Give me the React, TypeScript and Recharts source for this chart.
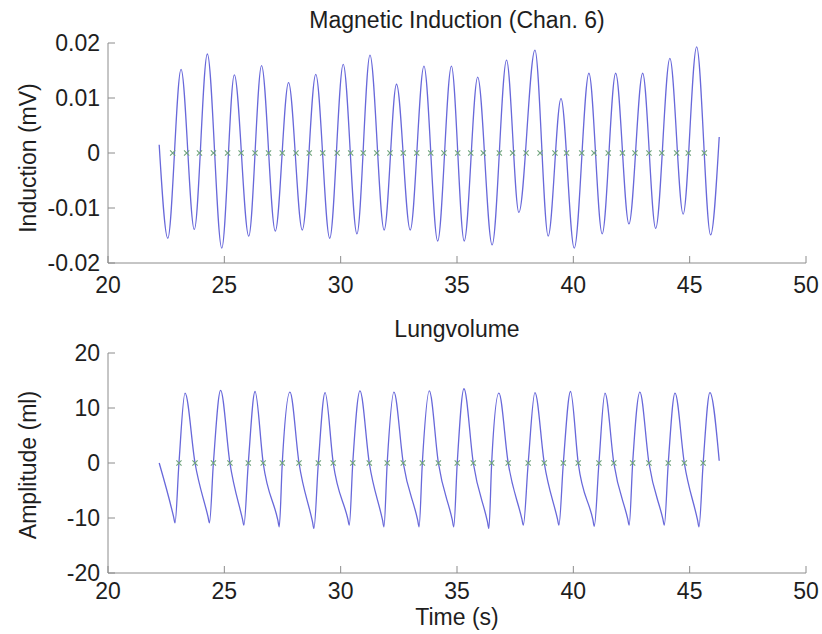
import React from "react";
import { ComposedChart, Line, Scatter, XAxis, YAxis } from "recharts";

// time axis shared by both panels
const TIME_TICKS = [20, 25, 30, 35, 40, 45, 50];
const INDUCTION_TICKS = [-0.02, -0.01, 0, 0.01, 0.02];
const LUNG_TICKS = [-20, -10, 0, 10, 20];

// magnetic induction, channel 6: turning points of the trace (s, mV)
const inductionTime = [
  22.2, 22.57, 23.14, 23.71, 24.27, 24.89, 25.43, 26.05, 26.6, 27.19, 27.76,
  28.35, 28.93, 29.53, 30.11, 30.7, 31.26, 31.87, 32.4, 32.99, 33.58, 34.17,
  34.76, 35.31, 35.89, 36.51, 37.13, 37.66, 38.35, 38.92, 39.47, 40.04, 40.67,
  41.24, 41.82, 42.39, 42.98, 43.54, 44.15, 44.72, 45.3, 45.9, 46.27,
];
const inductionValue = [
  0.0015, -0.0155, 0.0152, -0.0139, 0.018, -0.0173, 0.0142, -0.0151, 0.0159,
  -0.0142, 0.0128, -0.014, 0.0143, -0.0155, 0.0161, -0.0147, 0.0178, -0.014,
  0.0125, -0.014, 0.0158, -0.016, 0.0158, -0.016, 0.0138, -0.0167, 0.0169,
  -0.0108, 0.0187, -0.0151, 0.0099, -0.0173, 0.0145, -0.0147, 0.0145, -0.0129,
  0.0145, -0.0137, 0.0172, -0.0111, 0.0193, -0.0149, 0.0029,
];
// detected zero crossings of the induction signal
const inductionCrossings = [
  22.78, 23.38, 23.93, 24.53, 25.14, 25.72, 26.32, 26.9, 27.49, 28.08, 28.65,
  29.23, 29.85, 30.43, 30.97, 31.55, 32.12, 32.69, 33.27, 33.87, 34.44, 35.03,
  35.59, 36.13, 36.82, 37.39, 37.97, 38.57, 39.21, 39.71, 40.36, 40.89, 41.5,
  42.11, 42.65, 43.25, 43.8, 44.44, 44.94, 45.63,
];

// lung volume (s, ml)
const lungTime = [
  22.2, 22.82, 22.88, 23.05, 23.31, 23.74,
  24.3, 24.36, 24.53, 24.84, 25.24,
  25.78, 25.84, 26.03, 26.32, 26.67,
  27.3, 27.36, 27.49, 27.82, 28.21,
  28.79, 28.85, 29.04, 29.33, 29.68,
  30.31, 30.37, 30.52, 30.83, 31.23,
  31.8, 31.86, 32.0, 32.29, 32.69,
  33.31, 33.37, 33.51, 33.81, 34.2,
  34.8, 34.86, 35.01, 35.3, 35.7,
  36.31, 36.37, 36.49, 36.8, 37.2,
  37.79, 37.85, 38.06, 38.35, 38.75,
  39.32, 39.38, 39.57, 39.88, 40.21,
  40.84, 40.9, 41.1, 41.36, 41.74,
  42.34, 42.4, 42.55, 42.86, 43.25,
  43.85, 43.91, 44.08, 44.37, 44.77,
  45.34, 45.4, 45.58, 45.87, 46.27,
];
const lungValue = [
  0, -9.8, -10.9, 0, 12.7, 0,
  -9.8, -10.9, 0, 13.2, 0,
  -10.2, -11.3, 0, 13.0, 0,
  -10.4, -11.6, 0, 12.9, 0,
  -10.7, -11.9, 0, 12.8, 0,
  -10.2, -11.3, 0, 13.1, 0,
  -10.4, -11.6, 0, 12.9, 0,
  -10.4, -11.6, 0, 13.1, 0,
  -10.4, -11.6, 0, 13.5, 0,
  -10.7, -11.9, 0, 12.7, 0,
  -10.2, -11.3, 0, 12.8, 0,
  -10.2, -11.3, 0, 13.0, 0,
  -10.3, -11.5, 0, 12.7, 0,
  -10.2, -11.3, 0, 12.9, 0,
  -10.2, -11.3, 0, 12.7, 0,
  -10.4, -11.6, 0, 12.8, 0.4,
];
const lungCrossings = [
  23.05, 23.74, 24.53, 25.24, 26.03, 26.67, 27.49, 28.21, 29.04, 29.68, 30.52,
  31.23, 32.0, 32.69, 33.51, 34.2, 35.01, 35.7, 36.49, 37.2, 38.06, 38.75,
  39.57, 40.21, 41.1, 41.74, 42.55, 43.25, 44.08, 44.77, 45.58,
];

const FONT = '"Liberation Sans", Arial, Helvetica, sans-serif';
const INK = "#1e1e1e";
const FRAME = "#8c8c8c";
const TRACE = "#6868da";
const MARK = "#6fa47c";

const inductionRows = inductionTime.map((t, i) => ({ t, v: inductionValue[i] }));
const inductionMarks = inductionCrossings.map((t) => ({ t, v: 0 }));
const lungRows = lungTime.map((t, i) => ({ t, v: lungValue[i] }));
const lungMarks = lungCrossings.map((t) => ({ t, v: 0 }));

const tickStyle = { fontSize: 23, fill: INK, fontFamily: FONT };
const blank = () => "";

const CrossMark = (props: any) => {
  const { cx, cy } = props;
  const r = 2.6;
  return (
    <path
      d={`M${cx - r},${cy - r}L${cx + r},${cy + r}M${cx - r},${cy + r}L${cx + r},${cy - r}`}
      stroke={MARK}
      strokeWidth={1.1}
      fill="none"
    />
  );
};

// box frame with inward ticks on all four sides
function frame(yDomain: number[], yTicks: number[], xGap: number) {
  return [
    <XAxis
      key="xb"
      dataKey="t"
      type="number"
      domain={[20, 50]}
      ticks={TIME_TICKS}
      interval={0}
      tickSize={-7}
      tickMargin={xGap}
      height={30}
      stroke={FRAME}
      tick={tickStyle}
      allowDataOverflow
    />,
    <XAxis
      key="xt"
      xAxisId="top"
      orientation="top"
      dataKey="t"
      type="number"
      domain={[20, 50]}
      ticks={TIME_TICKS}
      interval={0}
      tickSize={-7}
      height={0}
      stroke={FRAME}
      tickFormatter={blank}
      allowDataOverflow
    />,
    <YAxis
      key="yl"
      dataKey="v"
      type="number"
      domain={yDomain}
      ticks={yTicks}
      interval={0}
      tickSize={-7}
      tickMargin={15}
      width={60}
      stroke={FRAME}
      tick={tickStyle}
      allowDataOverflow
    />,
    <YAxis
      key="yr"
      yAxisId="right"
      orientation="right"
      dataKey="v"
      type="number"
      domain={yDomain}
      ticks={yTicks}
      interval={0}
      tickSize={-7}
      width={0}
      stroke={FRAME}
      tickFormatter={blank}
      allowDataOverflow
    />,
  ];
}

const textBase: React.CSSProperties = {
  position: "absolute",
  fontFamily: FONT,
  fontSize: 23,
  lineHeight: "23px",
  color: INK,
  whiteSpace: "nowrap",
};

const centered = (top: number): React.CSSProperties => ({
  ...textBase,
  left: 108,
  width: 698,
  top,
  textAlign: "center",
});

const rotated = (cx: number, cy: number): React.CSSProperties => ({
  ...textBase,
  left: cx,
  top: cy,
  transform: "translate(-50%, -50%) rotate(-90deg)",
});

export default function App() {
  return (
    <div
      style={{
        position: "absolute",
        left: 0,
        top: 0,
        width: 822,
        height: 634,
        background: "#fff",
        overflow: "hidden",
      }}
    >
      <div style={centered(9)}>Magnetic Induction (Chan. 6)</div>
      <div style={rotated(28, 158)}>Induction (mV)</div>
      <div style={{ position: "absolute", left: 0, top: 0 }}>
        <ComposedChart
          width={822}
          height={300}
          margin={{ top: 43, right: 16, bottom: 7, left: 48 }}
        >
          {frame([-0.02, 0.02], INDUCTION_TICKS, 21)}
          <Line
            data={inductionRows}
            dataKey="v"
            type="monotone"
            stroke={TRACE}
            strokeWidth={1.3}
            dot={false}
            isAnimationActive={false}
          />
          <Scatter
            data={inductionMarks}
            dataKey="v"
            shape={CrossMark}
            isAnimationActive={false}
          />
        </ComposedChart>
      </div>

      <div style={centered(318)}>Lungvolume</div>
      <div style={rotated(28, 465)}>Amplitude (ml)</div>
      <div style={{ position: "absolute", left: 0, top: 310 }}>
        <ComposedChart
          width={822}
          height={300}
          margin={{ top: 43, right: 16, bottom: 7, left: 48 }}
        >
          {frame([-20, 20], LUNG_TICKS, 17)}
          <Line
            data={lungRows}
            dataKey="v"
            type="monotone"
            stroke={TRACE}
            strokeWidth={1.3}
            dot={false}
            isAnimationActive={false}
          />
          <Scatter
            data={lungMarks}
            dataKey="v"
            shape={CrossMark}
            isAnimationActive={false}
          />
        </ComposedChart>
      </div>
      <div style={{ ...centered(609), lineHeight: "17px" }}>Time (s)</div>
    </div>
  );
}
